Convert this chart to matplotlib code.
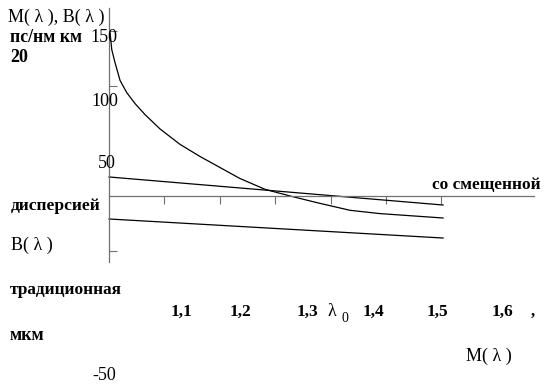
import matplotlib
matplotlib.use("Agg")
import matplotlib.pyplot as plt

# --- data ---
lam_curve = [1.002, 1.005, 1.011, 1.020, 1.032, 1.047, 1.065, 1.092, 1.128,
             1.164, 1.200, 1.236, 1.282, 1.327, 1.375, 1.435, 1.489, 1.603]
curve_vals = [148, 133, 121, 105, 94, 84, 74, 61, 47,
              36, 26, 16, 6, 0, -6, -13, -16, -20]

lam_lines = [1.0, 1.603]
line_upper = [17.3, -8.2]
line_lower = [-20.9, -38.2]

x_ticks = [1.1, 1.2, 1.3, 1.4, 1.5, 1.6]
y_ticks = [150, 100, -50]

W, H = 549, 388
fig = plt.figure(figsize=(W / 100, H / 100), dpi=100)
ax = fig.add_axes([0, 0, 1, 1])
ax.set_xlim(1 - 109 / 554, 1 + 440 / 554)
ax.set_ylim(-192 / 1.1, 196 / 1.1)
ax.patch.set_alpha(0)

axis_col = "#707070"
for s in ("top", "right"):
    ax.spines[s].set_visible(False)
ax.spines["left"].set_position(("data", 1.0))
ax.spines["bottom"].set_position(("data", 0))
ax.spines["left"].set_bounds(-60, 171)
ax.spines["bottom"].set_bounds(1.0, 1.767)
for s in ("left", "bottom"):
    ax.spines[s].set_color(axis_col)
    ax.spines[s].set_linewidth(0.9)

ax.set_xticks(x_ticks)
ax.set_yticks(y_ticks)
ax.tick_params(axis="x", direction="out", length=6, width=0.8, color=axis_col,
               labelbottom=False)
ax.tick_params(axis="y", direction="in", length=6, width=0.8, color=axis_col,
               labelleft=False)

ax.plot(lam_curve, curve_vals, color="black", lw=0.9)
ax.plot(lam_lines, line_upper, color="black", lw=0.9)
ax.plot(lam_lines, line_lower, color="black", lw=0.9)

serif = ["Liberation Serif", "DejaVu Serif"]


def t(px, py, s, size=12, weight="normal", ha="left"):
    fig.text(px / W, 1 - py / H, s, ha=ha, va="center", fontsize=size,
             family=serif, weight=weight)


t(8, 17, "M( λ ), B( λ )", 13)
t(10, 38, "пс/нм км", 12.8, "bold")
t(90, 38, "150", 13)
t(10, 57, "20", 13, "bold")
t(91, 101, "100", 13)
t(98, 163, "50", 13)
t(432, 185, "со смещенной", 12.4, "bold")
t(11, 206, "дисперсией", 12.6, "bold")
t(11, 245, "B( λ )", 13)
t(10, 290, "традиционная", 12.4, "bold")
t(10, 336, "мкм", 13, "bold")
t(466, 356, "M( λ )", 13)
t(92, 375, "-50", 13)

xt_labels = ["1,1", "1,2", "1,3", "1,4", "1,5", "1,6"]
xt_px = [171, 230, 297, 363, 427, 492]
for lab, px in zip(xt_labels, xt_px):
    t(px, 312, lab, 12.5, "bold")
t(327, 312, "λ", 13)
t(341, 318, "0", 10)
t(531, 312, ",", 12, "bold")

fig.savefig("out.png", dpi=100)
